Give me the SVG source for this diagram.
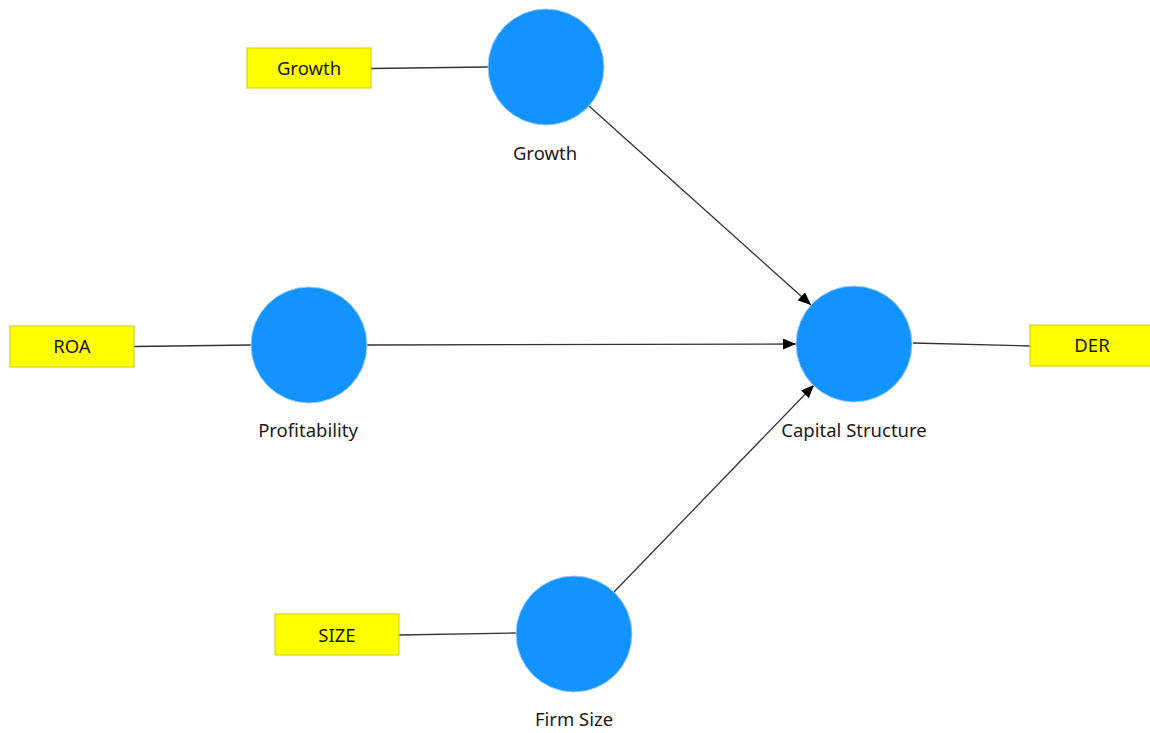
<svg xmlns="http://www.w3.org/2000/svg" width="1150" height="733" viewBox="0 0 1150 733">
  <style>
    .ind { fill: #FFFF00; stroke: #CCCC00; stroke-width: 1; }
    .lv { fill: #1393FF; stroke: #9CCBF5; stroke-width: 1; }
    .t { font-family: "Noto Sans", "Open Sans", sans-serif; font-size: 18.5px; fill: #1a1a1a; text-anchor: middle; }
    .link { stroke: #333; stroke-width: 1.3; fill: none; }
    .path { stroke: #333; stroke-width: 1.3; fill: none; marker-end: url(#arrow); }
  </style>
  <defs>
    <marker id="arrow" viewBox="0 0 13 11" refX="13" refY="5.5" markerWidth="13" markerHeight="11" markerUnits="userSpaceOnUse" orient="auto">
      <path d="M0,0 L13,5.5 L0,11 Z" fill="#000"/>
    </marker>
  </defs>
  <rect width="1150" height="733" fill="#fff"/>

  <g id="connectors">
    <line class="link" x1="371" y1="68.5" x2="488" y2="67"/>
    <line class="link" x1="134" y1="346.5" x2="251" y2="345"/>
    <line class="link" x1="399" y1="635" x2="517" y2="633"/>
    <line class="link" x1="913" y1="343" x2="1030" y2="346"/>
    <line class="path" x1="589" y1="106" x2="811" y2="305"/>
    <line class="path" x1="367" y1="345" x2="796" y2="344"/>
    <line class="path" x1="614" y1="592" x2="814" y2="385"/>
  </g>

  <g id="ind-growth">
    <rect class="ind" x="247" y="48" width="124" height="40"/>
    <text class="t" x="309" y="75">Growth</text>
  </g>
  <g id="ind-roa">
    <rect class="ind" x="10" y="326" width="124" height="41"/>
    <text class="t" x="72" y="353">ROA</text>
  </g>
  <g id="ind-size">
    <rect class="ind" x="275" y="614" width="124" height="41"/>
    <text class="t" x="337" y="642">SIZE</text>
  </g>
  <g id="ind-der">
    <rect class="ind" x="1030" y="325" width="124" height="41"/>
    <text class="t" x="1092" y="352">DER</text>
  </g>

  <g id="lv-growth">
    <circle class="lv" cx="546" cy="67" r="58"/>
    <text class="t" x="545" y="160">Growth</text>
  </g>
  <g id="lv-profitability">
    <circle class="lv" cx="309" cy="345" r="58"/>
    <text class="t" x="308" y="437">Profitability</text>
  </g>
  <g id="lv-capital-structure">
    <circle class="lv" cx="854" cy="344" r="58"/>
    <text class="t" x="854" y="437">Capital Structure</text>
  </g>
  <g id="lv-firm-size">
    <circle class="lv" cx="574" cy="634" r="58"/>
    <text class="t" x="574" y="726">Firm Size</text>
  </g>
</svg>
